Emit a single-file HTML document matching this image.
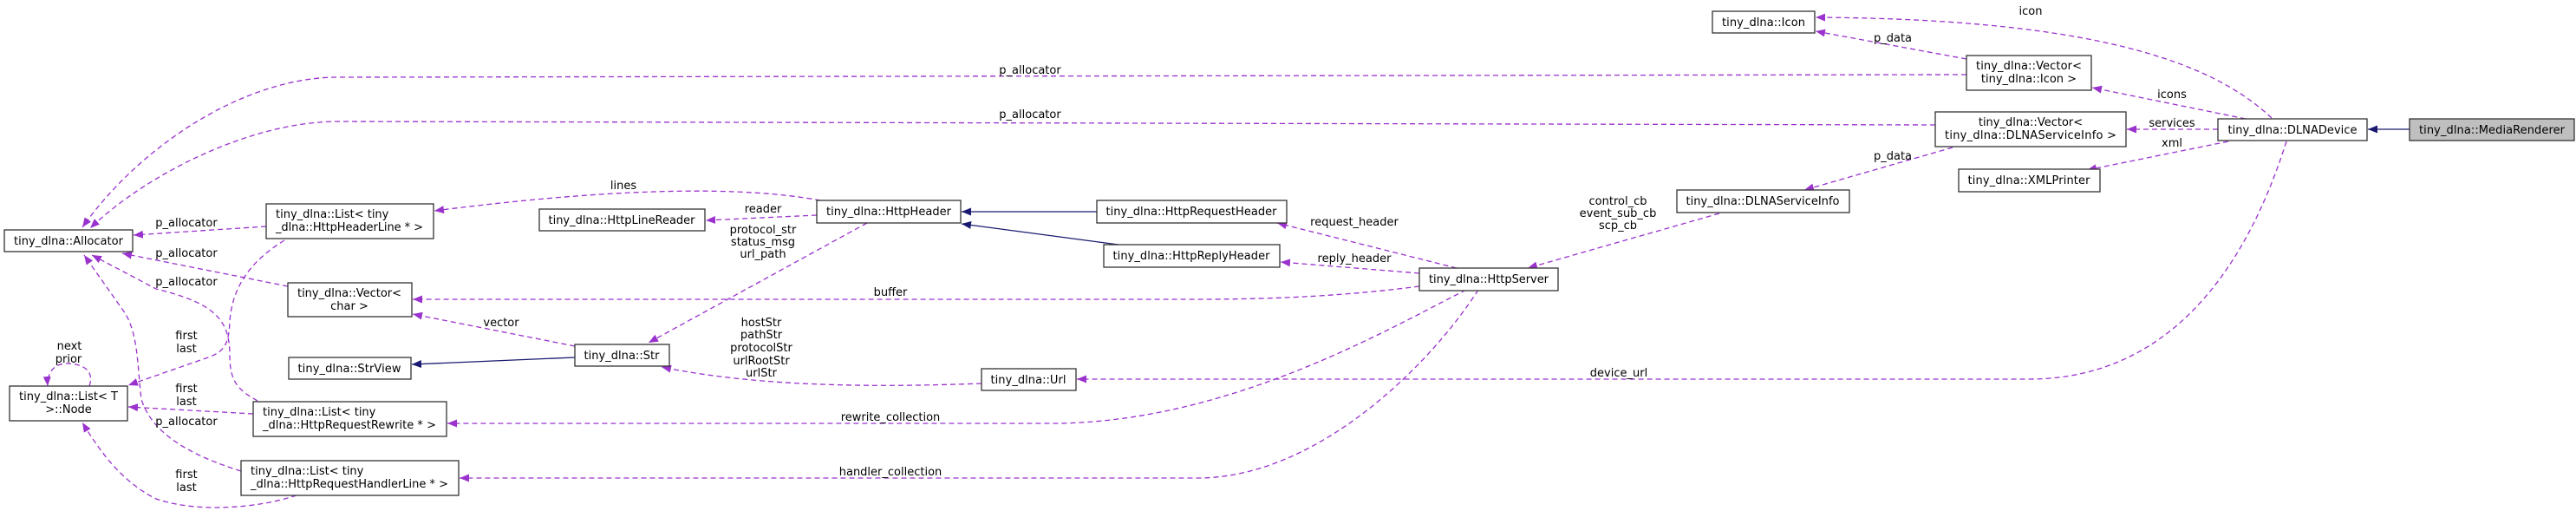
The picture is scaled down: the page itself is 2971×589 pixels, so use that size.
<!DOCTYPE html>
<html><head><meta charset="utf-8"><style>
html,body{margin:0;padding:0;background:#fff;}
svg{display:block;}
text{font-family:"DejaVu Sans","Liberation Sans",sans-serif;font-size:13px;fill:#000;}
.e{fill:none;stroke:#9a32cd;stroke-width:1.3;stroke-dasharray:6,4;}
.i{fill:none;stroke:#191970;stroke-width:1.3;}
.b{fill:#fff;stroke:#333;stroke-width:1.3;}
.l{text-anchor:middle;}
</style></head><body>
<svg width="2971" height="589" viewBox="0 0 2971 589" xmlns="http://www.w3.org/2000/svg">
<defs>
<marker id="pa" markerUnits="userSpaceOnUse" markerWidth="12" markerHeight="10" refX="11" refY="4.5" orient="auto"><path d="M0,0 L11,4.5 L0,9 z" fill="#9a32cd"/></marker>
<marker id="ba" markerUnits="userSpaceOnUse" markerWidth="12" markerHeight="10" refX="11" refY="4.5" orient="auto"><path d="M0,0 L11,4.5 L0,9 z" fill="#191970"/></marker>
</defs>

<!-- edges -->
<path class="e" marker-end="url(#pa)" d="M2268,86 L390,89 C280,89 160,170 95,262"/>
<path class="e" marker-end="url(#pa)" d="M2232,144 L390,140 C290,140 170,200 104,263"/>
<path class="e" marker-end="url(#pa)" d="M307,261 L154,271"/>
<path class="e" marker-end="url(#pa)" d="M332,330 L141,292"/>
<path class="e" marker-end="url(#pa)" d="M297,462 C275,450 265,440 265,410 C265,370 250,350 180,333 L106,294"/>
<path class="e" marker-end="url(#pa)" d="M278,543 C220,525 175,500 163,460 C158,420 160,380 140,355 L97,294"/>
<path class="e" marker-end="url(#pa)" d="M328,277 C290,300 268,330 265,370 C264,395 260,405 240,412 L148,444"/>
<path class="e" marker-end="url(#pa)" d="M292,477 L148,469"/>
<path class="e" marker-end="url(#pa)" d="M342,571 C300,585 230,592 180,575 C140,555 115,520 95,487"/>
<path class="e" marker-end="url(#pa)" d="M103,445 C110,425 92,419 77,419 C62,419 54,430 55,445"/>
<path class="e" marker-end="url(#pa)" d="M946,231 C860,215 720,215 501,243"/>
<path class="e" marker-end="url(#pa)" d="M942,248 L814,254"/>
<path class="e" marker-end="url(#pa)" d="M1000,257 L748,395"/>
<path class="e" marker-end="url(#pa)" d="M663,399 L476,362"/>
<path class="i" marker-end="url(#ba)" d="M663,412 L475,420"/>
<path class="e" marker-end="url(#pa)" d="M1637,330 C1560,340 1480,345 1380,345 L476,345"/>
<path class="e" marker-end="url(#pa)" d="M1132,442 C1000,447 870,445 763,423"/>
<path class="e" marker-end="url(#pa)" d="M1691,334 C1600,380 1420,485 1220,488 L516,488"/>
<path class="e" marker-end="url(#pa)" d="M1705,334 C1650,420 1520,550 1383,551 L530,551"/>
<path class="i" marker-end="url(#ba)" d="M1265,244 L1109,244"/>
<path class="i" marker-end="url(#ba)" d="M1290,282 L1109,258"/>
<path class="e" marker-end="url(#pa)" d="M1680,309 L1473,257"/>
<path class="e" marker-end="url(#pa)" d="M1637,315 L1477,302"/>
<path class="e" marker-end="url(#pa)" d="M1983,246 L1762,309"/>
<path class="e" marker-end="url(#pa)" d="M2252,170 L2081,219"/>
<path class="e" marker-end="url(#pa)" d="M2268,68 L2094,36"/>
<path class="e" marker-end="url(#pa)" d="M2620,136 C2560,80 2440,22 2094,20"/>
<path class="e" marker-end="url(#pa)" d="M2590,137 L2413,101"/>
<path class="e" marker-end="url(#pa)" d="M2558,149 L2453,149"/>
<path class="e" marker-end="url(#pa)" d="M2570,163 L2407,196"/>
<path class="e" marker-end="url(#pa)" d="M2637,163 C2600,280 2520,437 2340,437 L1242,437"/>
<path class="i" marker-end="url(#ba)" d="M2779,149 L2731,149"/>

<!-- edge labels -->
<text class="l" x="1188" y="85">p_allocator</text>
<text class="l" x="1188" y="136">p_allocator</text>
<text class="l" x="215" y="261">p_allocator</text>
<text class="l" x="215" y="296">p_allocator</text>
<text class="l" x="215" y="329">p_allocator</text>
<text class="l" x="215" y="490">p_allocator</text>
<text class="l" x="215" y="391">first</text><text class="l" x="215" y="406">last</text>
<text class="l" x="215" y="452">first</text><text class="l" x="215" y="467">last</text>
<text class="l" x="215" y="551">first</text><text class="l" x="215" y="566">last</text>
<text class="l" x="80" y="403">next</text><text class="l" x="79" y="418">prior</text>
<text class="l" x="719" y="218">lines</text>
<text class="l" x="880" y="245">reader</text>
<text class="l" x="880" y="269">protocol_str</text><text class="l" x="880" y="283">status_msg</text><text class="l" x="880" y="297">url_path</text>
<text class="l" x="578" y="376">vector</text>
<text class="l" x="1027" y="341">buffer</text>
<text class="l" x="878" y="376">hostStr</text><text class="l" x="878" y="390">pathStr</text><text class="l" x="878" y="405">protocolStr</text><text class="l" x="878" y="420">urlRootStr</text><text class="l" x="878" y="434">urlStr</text>
<text class="l" x="1027" y="485">rewrite_collection</text>
<text class="l" x="1027" y="548">handler_collection</text>
<text class="l" x="1562" y="260">request_header</text>
<text class="l" x="1562" y="302">reply_header</text>
<text class="l" x="1866" y="236">control_cb</text><text class="l" x="1866" y="250">event_sub_cb</text><text class="l" x="1866" y="264">scp_cb</text>
<text class="l" x="2183" y="184">p_data</text>
<text class="l" x="2183" y="48">p_data</text>
<text class="l" x="2342" y="17">icon</text>
<text class="l" x="2505" y="113">icons</text>
<text class="l" x="2505" y="146">services</text>
<text class="l" x="2505" y="169">xml</text>
<text class="l" x="1867" y="434">device_url</text>

<!-- nodes -->
<rect class="b" x="5" y="265" width="148" height="25"/><text class="l" x="79" y="282" textLength="126">tiny_dlna::Allocator</text>
<rect class="b" x="11" y="445" width="136" height="40"/><text class="l" x="79" y="461" textLength="114">tiny_dlna::List&lt; T</text><text class="l" x="79" y="476">&gt;::Node</text>
<rect class="b" x="307" y="235" width="193" height="40"/><text x="318" y="251">tiny_dlna::List&lt; tiny</text><text x="318" y="266" textLength="170">_dlna::HttpHeaderLine * &gt;</text>
<rect class="b" x="332" y="326" width="143" height="39"/><text class="l" x="403" y="342" textLength="120">tiny_dlna::Vector&lt;</text><text class="l" x="403" y="357">char &gt;</text>
<rect class="b" x="333" y="412" width="141" height="25"/><text class="l" x="403" y="429" textLength="119">tiny_dlna::StrView</text>
<rect class="b" x="292" y="463" width="223" height="40"/><text x="303" y="479">tiny_dlna::List&lt; tiny</text><text x="303" y="494" textLength="200">_dlna::HttpRequestRewrite * &gt;</text>
<rect class="b" x="278" y="531" width="251" height="40"/><text x="289" y="547">tiny_dlna::List&lt; tiny</text><text x="289" y="562" textLength="228">_dlna::HttpRequestHandlerLine * &gt;</text>
<rect class="b" x="622" y="241" width="191" height="25"/><text class="l" x="717" y="258" textLength="169">tiny_dlna::HttpLineReader</text>
<rect class="b" x="942" y="231" width="166" height="26"/><text class="l" x="1025" y="248" textLength="144">tiny_dlna::HttpHeader</text>
<rect class="b" x="663" y="397" width="109" height="25"/><text class="l" x="717" y="414" textLength="87">tiny_dlna::Str</text>
<rect class="b" x="1132" y="425" width="109" height="25"/><text class="l" x="1186" y="442" textLength="87">tiny_dlna::Url</text>
<rect class="b" x="1265" y="231" width="219" height="26"/><text class="l" x="1374" y="248" textLength="197">tiny_dlna::HttpRequestHeader</text>
<rect class="b" x="1273" y="282" width="203" height="26"/><text class="l" x="1374" y="299" textLength="181">tiny_dlna::HttpReplyHeader</text>
<rect class="b" x="1637" y="309" width="160" height="26"/><text class="l" x="1717" y="326" textLength="138">tiny_dlna::HttpServer</text>
<rect class="b" x="1934" y="219" width="199" height="26"/><text class="l" x="2033" y="236" textLength="177">tiny_dlna::DLNAServiceInfo</text>
<rect class="b" x="1975" y="13" width="118" height="25"/><text class="l" x="2034" y="30" textLength="96">tiny_dlna::Icon</text>
<rect class="b" x="2268" y="64" width="144" height="40"/><text class="l" x="2340" y="80" textLength="122">tiny_dlna::Vector&lt;</text><text class="l" x="2340" y="95">tiny_dlna::Icon &gt;</text>
<rect class="b" x="2232" y="129" width="220" height="40"/><text class="l" x="2342" y="145">tiny_dlna::Vector&lt;</text><text class="l" x="2342" y="160" textLength="198">tiny_dlna::DLNAServiceInfo &gt;</text>
<rect class="b" x="2259" y="195" width="163" height="26"/><text class="l" x="2340" y="212" textLength="141">tiny_dlna::XMLPrinter</text>
<rect class="b" x="2558" y="137" width="172" height="25"/><text class="l" x="2644" y="154" textLength="149">tiny_dlna::DLNADevice</text>
<rect x="2779" y="137" width="190" height="25" fill="#bfbfbf" stroke="#333" stroke-width="1.3"/><text class="l" x="2874" y="154" textLength="168">tiny_dlna::MediaRenderer</text>
</svg>
</body></html>
